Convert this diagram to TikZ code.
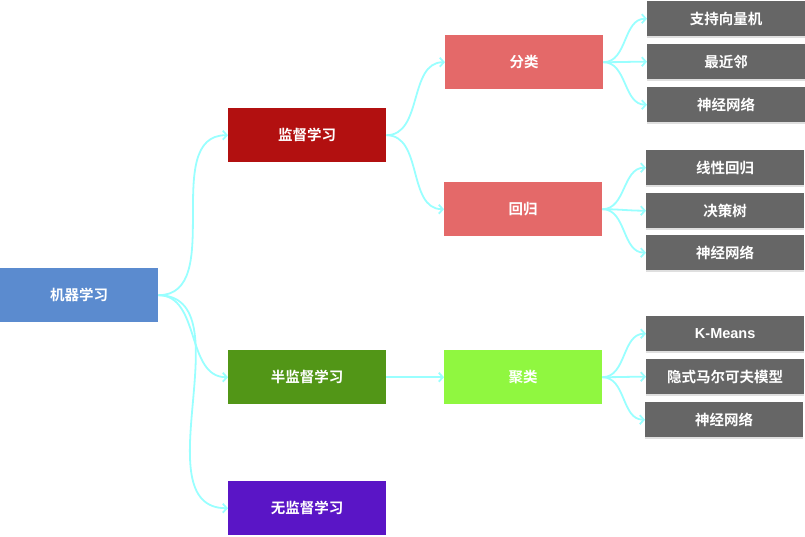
\documentclass[tikz,border=0pt]{standalone}
\usepackage{fontspec}
\setmainfont{Liberation Sans}
\newfontfamily\cjk[BoldFont={Noto Sans CJK SC Bold}]{Noto Sans CJK SC}
\usepackage{xcolor}
\usetikzlibrary{arrows.meta,positioning,shadows}

\definecolor{mlblue}{HTML}{5B8BCF}
\definecolor{suped}{HTML}{B21010}
\definecolor{semigreen}{HTML}{529617}
\definecolor{unsuppurple}{HTML}{5A15C6}
\definecolor{pinkred}{HTML}{E46969}
\definecolor{limegreen}{HTML}{90F740}
\definecolor{leafgray}{HTML}{666666}
\definecolor{linkcyan}{HTML}{99FFFF}

\begin{document}
\begin{tikzpicture}[x=1pt,y=-1pt,
    box/.style={rectangle, anchor=north west, minimum width=158pt, minimum height=54pt,
                inner sep=0pt, text=white, font=\fontsize{14.5}{16}\selectfont\cjk\bfseries},
    leaf/.style={box, fill=leafgray, minimum height=35pt,
                 drop shadow={shadow xshift=0pt, shadow yshift=-2pt, opacity=0.25, fill=gray}},
    link/.style={draw=linkcyan, line width=1.8pt, -{Straight Barb[length=4pt,width=9pt]}}]

  \useasboundingbox (0,0) rectangle (805,536);

  % levels
  \node[box,fill=mlblue] (ml) at (0,268) {机器学习};
  \node[box,fill=suped] (sup) at (228,108) {监督学习};
  \node[box,fill=semigreen] (semi) at (228,350) {半监督学习};
  \node[box,fill=unsuppurple] (unsup) at (228,481) {无监督学习};

  \node[box,fill=pinkred] (cls) at (445,35) {分类};
  \node[box,fill=pinkred] (reg) at (444,182) {回归};
  \node[box,fill=limegreen] (clu) at (444,350) {聚类};

  % leaves
  \node[leaf] (svm) at (647,1) {支持向量机};
  \node[leaf] (knn) at (647,44) {最近邻};
  \node[leaf] (nnA) at (647,87) {神经网络};

  \node[leaf] (lin) at (646,150) {线性回归};
  \node[leaf] (tree) at (646,193) {决策树};
  \node[leaf] (nnB) at (646,235) {神经网络};

  \node[leaf,font=\fontsize{14.5}{16}\selectfont\bfseries] (km) at (646,316) {K-Means};
  \node[leaf] (hmm) at (646,359) {隐式马尔可夫模型};
  \node[leaf] (nnC) at (645,402) {神经网络};

  % connectors
  \foreach \a/\b in {ml/sup,ml/semi,ml/unsup,sup/cls,sup/reg,semi/clu,
                     cls/svm,cls/knn,cls/nnA,reg/lin,reg/tree,reg/nnB,
                     clu/km,clu/hmm,clu/nnC}
    \draw[link] (\a.east) to[out=0,in=180] (\b.west);
\end{tikzpicture}
\end{document}
